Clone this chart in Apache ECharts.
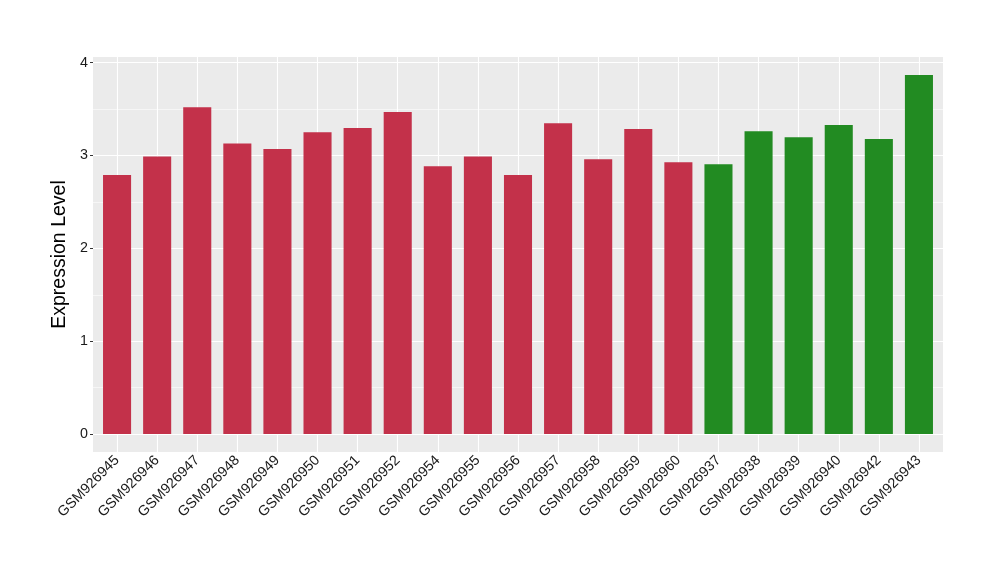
<!DOCTYPE html>
<html><head><meta charset="utf-8">
<script src="https://cdn.jsdelivr.net/npm/echarts@6/dist/echarts.min.js"></script>
<style>html,body{margin:0;padding:0;background:#fff}#c{width:1000px;height:580px}</style>
</head><body><div id="c"></div>
<script>
const categories = ["GSM926945","GSM926946","GSM926947","GSM926948","GSM926949","GSM926950","GSM926951","GSM926952","GSM926954","GSM926955","GSM926956","GSM926957","GSM926958","GSM926959","GSM926960","GSM926937","GSM926938","GSM926939","GSM926940","GSM926942","GSM926943"];
const values = [2.79,2.99,3.52,3.13,3.07,3.25,3.295,3.467,2.885,2.99,2.79,3.348,2.96,3.284,2.928,2.906,3.262,3.197,3.327,3.176,3.867];
const groups = ["A","A","A","A","A","A","A","A","A","A","A","A","A","A","A","B","B","B","B","B","B"];
const groupColors = {A:"#C3314A", B:"#228B22"};
const yTicks = [0,1,2,3,4];
const yMinor = [0.5,1.5,2.5,3.5];

const positions = categories.map((c,i)=>i+1);
const ymax = Math.max(...values);
const pad = ymax*0.05;
const xpad = 0.6;

const gridLines = [];
yTicks.forEach(v=>gridLines.push({yAxis:v, lineStyle:{color:'#fff', width:1.1, type:'solid'}}));
yMinor.forEach(v=>gridLines.push({yAxis:v, lineStyle:{color:'#fff', width:0.55, type:'solid'}}));
positions.forEach(p=>gridLines.push({xAxis:p, lineStyle:{color:'#fff', width:1.1, type:'solid'}}));

const FONT = 'Liberation Sans, Arial, sans-serif';
const chart = echarts.init(document.getElementById('c'), null, {renderer:'canvas'});
chart.setOption({
  animation:false,
  textStyle:{fontFamily:FONT},
  grid:{left:93, right:57, top:57, bottom:128, show:true, backgroundColor:'#EBEBEB', borderWidth:0, containLabel:false},
  xAxis:{
    type:'value', min:1-xpad, max:categories.length+xpad,
    axisLine:{show:false},
    splitLine:{show:false},
    axisTick:{show:true, customValues:positions, length:3, lineStyle:{color:'#333'}},
    axisLabel:{customValues:positions, rotate:45, margin:6, fontSize:14.3, color:'#1a1a1a',
      fontFamily:FONT,
      formatter:v=>categories[Math.round(v)-1] || ''}
  },
  yAxis:{
    type:'value', min:-pad, max:ymax+pad,
    name:'Expression Level', nameLocation:'middle', nameGap:19, nameRotate:90,
    nameTextStyle:{fontSize:19.5, color:'#000', fontFamily:FONT},
    axisLine:{show:false},
    splitLine:{show:false},
    axisTick:{show:true, customValues:yTicks, length:3, lineStyle:{color:'#333'}},
    axisLabel:{customValues:yTicks, margin:5, fontSize:14.3, color:'#1a1a1a', fontFamily:FONT}
  },
  series:[
    {type:'line', data:[], z:1, silent:true, symbol:'none',
      markLine:{z:1, silent:true, symbol:['none','none'], label:{show:false}, animation:false, data:gridLines}},
    {type:'bar', z:3, barWidth:'70%',
      data:values.map((v,i)=>({value:[positions[i], v], itemStyle:{color:groupColors[groups[i]]}}))}
  ]
});
</script></body></html>
